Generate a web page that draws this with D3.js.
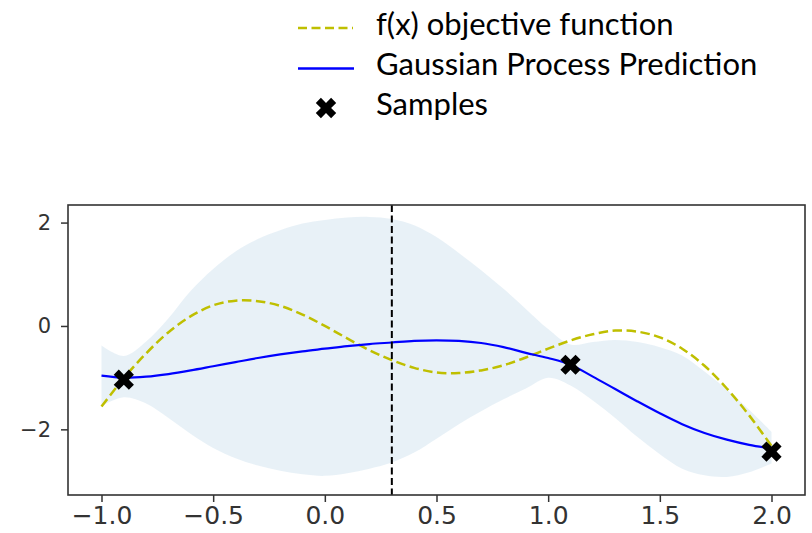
<!DOCTYPE html>
<html>
<head>
<meta charset="utf-8">
<script src="https://cdn.jsdelivr.net/npm/d3@7"></script>
<style>
  body { margin: 0; background: #fff; }
  svg { display: block; }
</style>
</head>
<body>
<div id="chart"></div>
<script>
// values
const xGrid = [-1.0, -0.9, -0.8, -0.7, -0.6, -0.5, -0.4, -0.3, -0.2, -0.1, 0.0,
  0.1, 0.2, 0.3, 0.4, 0.5, 0.6, 0.7, 0.8, 0.9, 1.0,
  1.1, 1.2, 1.3, 1.4, 1.5, 1.6, 1.7, 1.8, 1.9, 2.0];
const objective = [-1.56, -1.01, -0.53, -0.12, 0.19, 0.40, 0.49, 0.48, 0.39, 0.22, 0.00,
  -0.24, -0.47, -0.66, -0.81, -0.90, -0.91, -0.86, -0.76, -0.61, -0.44,
  -0.28, -0.16, -0.09, -0.11, -0.22, -0.44, -0.77, -1.21, -1.73, -2.32];
const gpMean = [-0.96, -1.00, -0.98, -0.93, -0.86, -0.78, -0.70, -0.62, -0.55, -0.49, -0.44,
  -0.39, -0.35, -0.32, -0.29, -0.28, -0.29, -0.33, -0.41, -0.52, -0.62,
  -0.75, -0.98, -1.22, -1.46, -1.69, -1.90, -2.07, -2.20, -2.30, -2.37];
const gpUpper = [-0.38, -0.58, -0.30, 0.15, 0.68, 1.10, 1.44, 1.68, 1.85, 1.98, 2.05,
  2.10, 2.11, 2.07, 1.95, 1.72, 1.41, 1.08, 0.72, 0.33, -0.06,
  -0.36, -0.31, -0.27, -0.31, -0.41, -0.57, -0.88, -1.23, -1.62, -2.05];
const gpLower = [-1.55, -1.38, -1.50, -1.78, -2.09, -2.36, -2.56, -2.70, -2.80, -2.87, -2.90,
  -2.85, -2.76, -2.64, -2.45, -2.18, -1.90, -1.65, -1.42, -1.21, -1.00,
  -1.15, -1.44, -1.78, -2.15, -2.48, -2.76, -2.89, -2.92, -2.83, -2.66];
const sampleX = [-0.9, 1.1, 2.0];
const sampleY = [-1.04, -0.75, -2.43];
const nextX = 0.3;
const xTicks = [-1.0, -0.5, 0.0, 0.5, 1.0, 1.5, 2.0];
const yTicks = [-2, 0, 2];
const legendLabels = ['f(x) objective function', 'Gaussian Process Prediction', 'Samples'];

const width = 812;
const height = 533;
const margin = { top: 205, right: 7, bottom: 38, left: 68 };

const svg = d3.select('#chart')
  .append('svg')
  .attr('width', width)
  .attr('height', height);

const x = d3.scaleLinear().domain([-1.15, 2.15]).range([margin.left, width - margin.right]);
const y = d3.scaleLinear().domain([-3.27, 2.34]).range([height - margin.bottom, margin.top]);

const rows = xGrid.map((v, i) => ({ x: v, f: objective[i], m: gpMean[i], lo: gpLower[i], hi: gpUpper[i] }));

// confidence band
svg.append('path')
  .datum(rows)
  .attr('fill', '#1f77b4')
  .attr('fill-opacity', 0.1)
  .attr('d', d3.area()
    .x(d => x(d.x))
    .y0(d => y(d.lo))
    .y1(d => y(d.hi))
    .curve(d3.curveCatmullRom));

// objective
svg.append('path')
  .datum(rows)
  .attr('fill', 'none')
  .attr('stroke', '#bfbf00')
  .attr('stroke-width', 2.5)
  .attr('stroke-dasharray', '9.5,4.5')
  .attr('d', d3.line().x(d => x(d.x)).y(d => y(d.f)).curve(d3.curveCatmullRom));

// gp mean
svg.append('path')
  .datum(rows)
  .attr('fill', 'none')
  .attr('stroke', '#0000ff')
  .attr('stroke-width', 2.2)
  .attr('d', d3.line().x(d => x(d.x)).y(d => y(d.m)).curve(d3.curveCatmullRom));

// next point
svg.append('line')
  .attr('x1', x(nextX)).attr('x2', x(nextX))
  .attr('y1', y.range()[1]).attr('y2', y.range()[0])
  .attr('stroke', '#000')
  .attr('stroke-width', 2)
  .attr('stroke-dasharray', '7,3.5');

const cross = d3.symbol().type(d3.symbolCross).size(255);

svg.selectAll('.sample')
  .data(sampleX)
  .enter()
  .append('path')
  .attr('class', 'sample')
  .attr('d', cross)
  .attr('transform', (d, i) => `translate(${x(d)},${y(sampleY[i])}) rotate(45)`)
  .attr('fill', '#000');

// frame
svg.append('rect')
  .attr('x', margin.left)
  .attr('y', margin.top)
  .attr('width', width - margin.left - margin.right)
  .attr('height', height - margin.top - margin.bottom)
  .attr('fill', 'none')
  .attr('stroke', '#333')
  .attr('stroke-width', 1.6);

const xAxis = svg.append('g')
  .attr('transform', `translate(0,${height - margin.bottom})`)
  .call(d3.axisBottom(x).tickValues(xTicks).tickFormat(d3.format('.1f')).tickSize(7).tickPadding(4));
xAxis.select('.domain').remove();
xAxis.selectAll('line').attr('stroke', '#333').attr('stroke-width', 1.5);
xAxis.selectAll('text')
  .attr('fill', '#333')
  .style('font-family', 'DejaVu Sans')
  .style('font-size', '25px');

const yAxis = svg.append('g')
  .attr('transform', `translate(${margin.left},0)`)
  .call(d3.axisLeft(y).tickValues(yTicks).tickFormat(d3.format('d')).tickSize(7).tickPadding(10));
yAxis.select('.domain').remove();
yAxis.selectAll('line').attr('stroke', '#333').attr('stroke-width', 1.5);
yAxis.selectAll('text')
  .attr('fill', '#333')
  .style('font-family', 'DejaVu Sans')
  .style('font-size', '21px');

// legend
const legend = svg.append('g').attr('transform', 'translate(298,0)');
const rowY = [28, 68.5, 108];
const baseY = [35, 75, 114.5];

legend.append('line')
  .attr('x1', 0).attr('x2', 55).attr('y1', rowY[0]).attr('y2', rowY[0])
  .attr('stroke', '#bfbf00').attr('stroke-width', 2.5).attr('stroke-dasharray', '9,4.5');
legend.append('line')
  .attr('x1', 0).attr('x2', 56).attr('y1', rowY[1]).attr('y2', rowY[1])
  .attr('stroke', '#0000ff').attr('stroke-width', 2.5);
legend.append('path')
  .attr('d', d3.symbol().type(d3.symbolCross).size(260))
  .attr('transform', `translate(28,${rowY[2]}) rotate(45)`)
  .attr('fill', '#000');

const labels = legend.selectAll('.lbl')
  .data(legendLabels)
  .enter()
  .append('text')
  .attr('class', 'lbl')
  .attr('x', 78)
  .attr('y', (d, i) => baseY[i])
  .style('font-family', 'Lato, "Open Sans", sans-serif')
  .style('font-size', '34px')
  .attr('fill', '#000')
  .text(d => d);

// Calibri-like size: fit the longest label to the width seen in the picture
const longest = labels.filter((d, i) => i === 1).node().getComputedTextLength();
labels.style('font-size', (34 * 381 / longest).toFixed(1) + 'px');
</script>
</body>
</html>
